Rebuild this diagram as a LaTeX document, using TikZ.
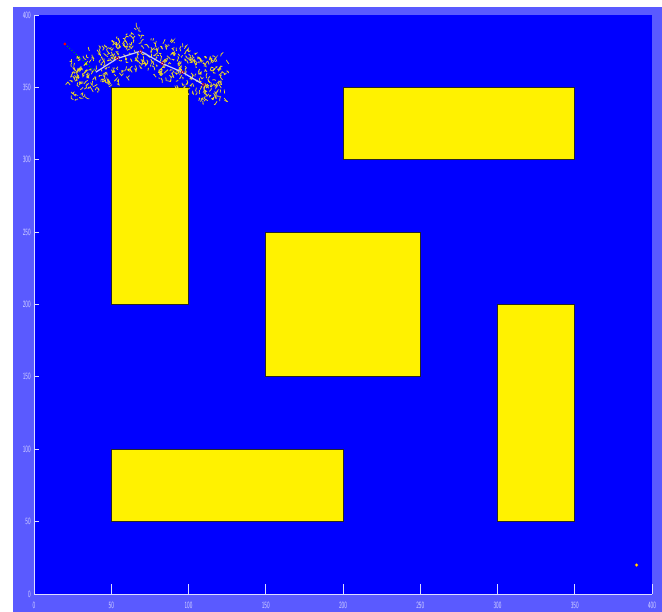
\documentclass[tikz,border=0pt]{standalone}
\definecolor{frameblue}{RGB}{90,90,255}
\definecolor{plotblue}{RGB}{0,0,255}
\definecolor{ticklab}{RGB}{220,220,255}
\definecolor{pathcol}{RGB}{200,200,255}
\definecolor{treecol}{RGB}{235,215,40}
\tikzset{
  obst/.style={fill=yellow, draw=black!85, line width=0.8pt},
  axisline/.style={draw=ticklab, line width=0.8pt},
  ticklabel/.style={text=ticklab, font=\fontsize{9.5}{9.5}\sffamily, inner sep=0pt},
  treeseg/.style={draw=treecol, line width=0.75pt},
  waypt/.style={circle, draw=red!80!black, line width=0.5pt, inner sep=0pt, minimum size=3pt},
}
\begin{document}
\begin{tikzpicture}[x=1pt,y=1pt]
\useasboundingbox (0,0) rectangle (662,612);
\fill[white] (0,0) rectangle (662,612);
\fill[frameblue] (13,0) rectangle (662,605);
\fill[plotblue] (34,18) rectangle (652,597);
\begin{scope}[shift={(34,18)}, x=1.545pt, y=1.4475pt]
  % obstacles
  \path[obst] (50,200) rectangle (100,350);
  \path[obst] (200,300) rectangle (350,350);
  \path[obst] (150,150) rectangle (250,250);
  \path[obst] (300,50) rectangle (350,200);
  \path[obst] (50,50) rectangle (200,100);
  % axes
  \draw[axisline] (0,400) -- (0,0) -- (400,0);
  \foreach \v in {50,100,...,400}{
    \draw[axisline] (\v,0) -- ++(0,6.9);
    \draw[axisline] (0,\v) -- ++(3.5,0);
  }
  \foreach \v in {0,50,...,400}{
    \node[ticklabel] at (\v,-7.7) {\scalebox{0.55}[1]{\v}};
    \node[ticklabel, anchor=east] at (-2,\v) {\scalebox{0.55}[1]{\v}};
  }
  % RRT tree
  \pgfmathsetseed{12}
  \foreach \i in {1,...,430}{
    \pgfmathsetmacro{\px}{23+102*rnd}
    \pgfmathsetmacro{\py}{max(356,376-0.5*abs(\px-69))+32*(rnd-0.5)}
    \pgfmathsetmacro{\ax}{3*(rnd-0.5)}
    \pgfmathsetmacro{\ay}{5*(rnd-0.5)}
    \pgfmathsetmacro{\bx}{3*(rnd-0.5)}
    \pgfmathsetmacro{\by}{4*(rnd-0.5)}
    \draw[treeseg] (\px,\py) -- ++(\ax,\ay) -- ++(\bx,\by);
  }
  % start, path, goal
  \coordinate (s) at (20,380);
  \coordinate (w0) at (40,360.5);
  \coordinate (w1) at (54,370);
  \coordinate (w2) at (69,375);
  \coordinate (w3) at (83,366.5);
  \coordinate (w4) at (96,360.5);
  \coordinate (w5) at (109.5,352);
  \draw[green!70!black, line width=1pt, dotted] (s) -- (w0);
  \draw[pathcol, line width=1.2pt] (w0) -- (w1) -- (w2) -- (w3) -- (w4) -- (w5);
  \foreach \w in {w1,w2,w3,w4,w5}{
    \node[waypt] at (\w) {};
  }
  \node[circle, fill=red, inner sep=0pt, minimum size=3pt] (start) at (s) {};
  \node[circle, fill=yellow, draw=orange, line width=0.3pt, inner sep=0pt, minimum size=3pt] (goal) at (390,20) {};
\end{scope}
\end{tikzpicture}
\end{document}
